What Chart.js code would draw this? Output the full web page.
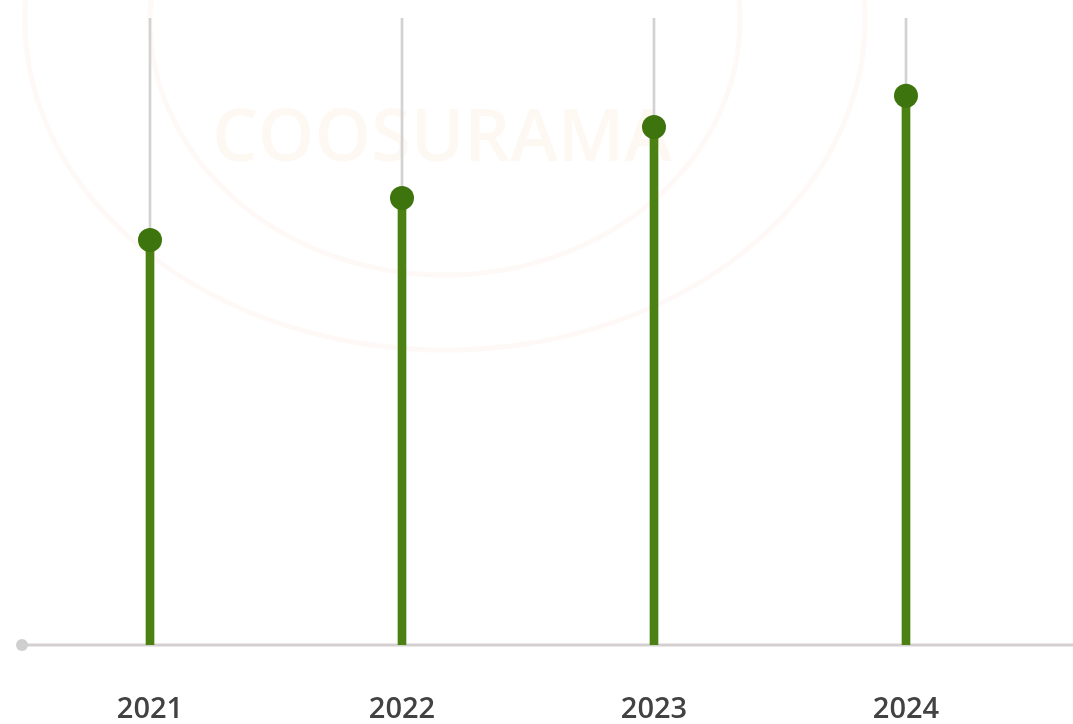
<!DOCTYPE html>
<html>
<head>
<meta charset="utf-8">
<script src="https://cdn.jsdelivr.net/npm/chart.js@4/dist/chart.umd.min.js"></script>
<style>
  html, body { margin: 0; padding: 0; background: #fff; }
  #wrap { width: 1073px; height: 724px; position: relative; }
</style>
</head>
<body>
<div id="wrap"><canvas id="chart"></canvas></div>
<script>
var years = ['2021', '2022', '2023', '2024'];
var values = [64.6, 71.3, 82.6, 87.6];
var trackTop = [100, 100, 100, 100];

var STEM_GREEN = '#4b8013';
var DOT_GREEN = '#3d740d';
var TRACK_GREY = '#d2d2d2';

// Faint logo behind the plot, plus the long baseline with its dot on the left.
var backdrop = {
  id: 'backdrop',
  beforeDraw: function(chart) {
    var ctx = chart.ctx;
    ctx.save();
    ctx.strokeStyle = 'rgba(240, 160, 100, 0.06)';
    ctx.lineWidth = 5;
    ctx.beginPath();
    ctx.ellipse(445, 20, 420, 330, 0, 0, Math.PI * 2);
    ctx.stroke();
    ctx.beginPath();
    ctx.ellipse(445, 20, 295, 255, 0, 0, Math.PI * 2);
    ctx.stroke();
    ctx.fillStyle = 'rgba(240, 160, 100, 0.08)';
    ctx.font = '600 72px "Open Sans"';
    ctx.textAlign = 'center';
    ctx.textBaseline = 'middle';
    ctx.fillText('COOSURAMA', 442, 140);
    ctx.restore();
  },
  beforeDatasetsDraw: function(chart) {
    var ctx = chart.ctx;
    var y = chart.scales.y.getPixelForValue(0);
    ctx.save();
    ctx.strokeStyle = '#d4d0cf';
    ctx.lineWidth = 3;
    ctx.beginPath();
    ctx.moveTo(22, y);
    ctx.lineTo(chart.width, y);
    ctx.stroke();
    ctx.fillStyle = '#cfcfcf';
    ctx.beginPath();
    ctx.arc(22, y, 6, 0, Math.PI * 2);
    ctx.fill();
    ctx.restore();
  }
};

new Chart(document.getElementById('chart'), {
  data: {
    labels: years,
    datasets: [
      {
        type: 'line',
        data: values,
        showLine: false,
        pointRadius: 12,
        pointHoverRadius: 12,
        pointBackgroundColor: DOT_GREEN,
        pointBorderWidth: 0,
        order: 0
      },
      {
        type: 'bar',
        data: values,
        backgroundColor: STEM_GREEN,
        barThickness: 8,
        grouped: false,
        order: 1
      },
      {
        type: 'bar',
        data: trackTop,
        backgroundColor: TRACK_GREY,
        barThickness: 2,
        grouped: false,
        order: 2
      }
    ]
  },
  options: {
    responsive: true,
    maintainAspectRatio: false,
    animation: false,
    layout: { padding: { left: 24, right: 41, top: 18, bottom: 0 } },
    plugins: {
      legend: { display: false },
      tooltip: { enabled: false }
    },
    scales: {
      x: {
        offset: true,
        grid: { display: false, drawTicks: false },
        border: { display: false },
        afterFit: function(scale) { scale.height = 79; },
        ticks: {
          padding: 47,
          color: '#424242',
          font: { family: '"Open Sans"', size: 29, weight: '600' }
        }
      },
      y: {
        display: false,
        min: 0,
        max: 100
      }
    }
  },
  plugins: [backdrop]
});
</script>
</body>
</html>
